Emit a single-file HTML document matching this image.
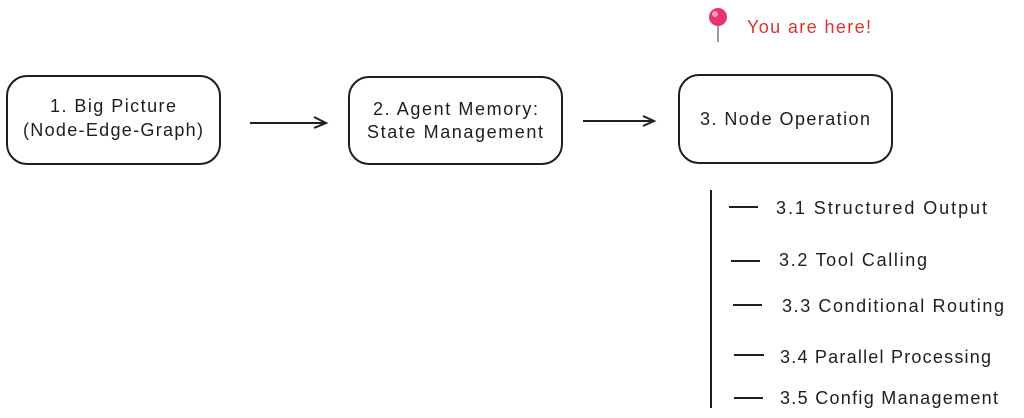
<!DOCTYPE html>
<html><head><meta charset="utf-8"><style>
html,body{margin:0;padding:0;background:#fff;width:1024px;height:418px;overflow:hidden}
text{font-family:"Liberation Sans",sans-serif;fill:#1e1e1e}
</style></head><body>
<svg width="1024" height="418" viewBox="0 0 1024 418" xmlns="http://www.w3.org/2000/svg">
<g fill="none" stroke="#1e1e1e" stroke-width="2">
<rect x="7" y="76" width="213" height="88" rx="20"/>
<rect x="349" y="77" width="213" height="87" rx="20"/>
<rect x="679" y="75" width="213" height="88" rx="20"/>
<line x1="250" y1="123" x2="326" y2="123"/>
<polyline points="314,117 326,123 314,128"/>
<line x1="583" y1="121" x2="654" y2="121"/>
<polyline points="643,116 654,121 643,126"/>
<line x1="711" y1="190" x2="711" y2="408"/>
<line x1="729" y1="207" x2="758" y2="207"/>
<line x1="731" y1="261" x2="760" y2="261"/>
<line x1="733" y1="305" x2="762" y2="305"/>
<line x1="734" y1="355" x2="764" y2="355"/>
<line x1="734" y1="398" x2="763" y2="398"/>
</g>
<line x1="718" y1="24" x2="718" y2="42" stroke="#9a9aa8" stroke-width="2"/>
<circle cx="718" cy="17" r="9" fill="#e8336e"/>
<circle cx="715" cy="14" r="3" fill="#f7a0bd"/>
<text x="747" y="33" font-size="18" style="fill:#e03131" textLength="124">You are here!</text>
<text x="113" y="112" font-size="18" text-anchor="middle" textLength="126">1. Big Picture</text>
<text x="113" y="136" font-size="18" text-anchor="middle" textLength="180">(Node-Edge-Graph)</text>
<text x="373" y="115" font-size="18" textLength="165">2. Agent Memory:</text>
<text x="367" y="138" font-size="18" textLength="176">State Management</text>
<text x="785" y="125" font-size="18" text-anchor="middle" textLength="170">3. Node Operation</text>
<text x="776" y="214" font-size="18" textLength="211">3.1 Structured Output</text>
<text x="779" y="266" font-size="18" textLength="148">3.2 Tool Calling</text>
<text x="782" y="312" font-size="18" textLength="222">3.3 Conditional Routing</text>
<text x="780" y="363" font-size="18" textLength="211">3.4 Parallel Processing</text>
<text x="780" y="404" font-size="18" textLength="218">3.5 Config Management</text>
</svg>
</body></html>
